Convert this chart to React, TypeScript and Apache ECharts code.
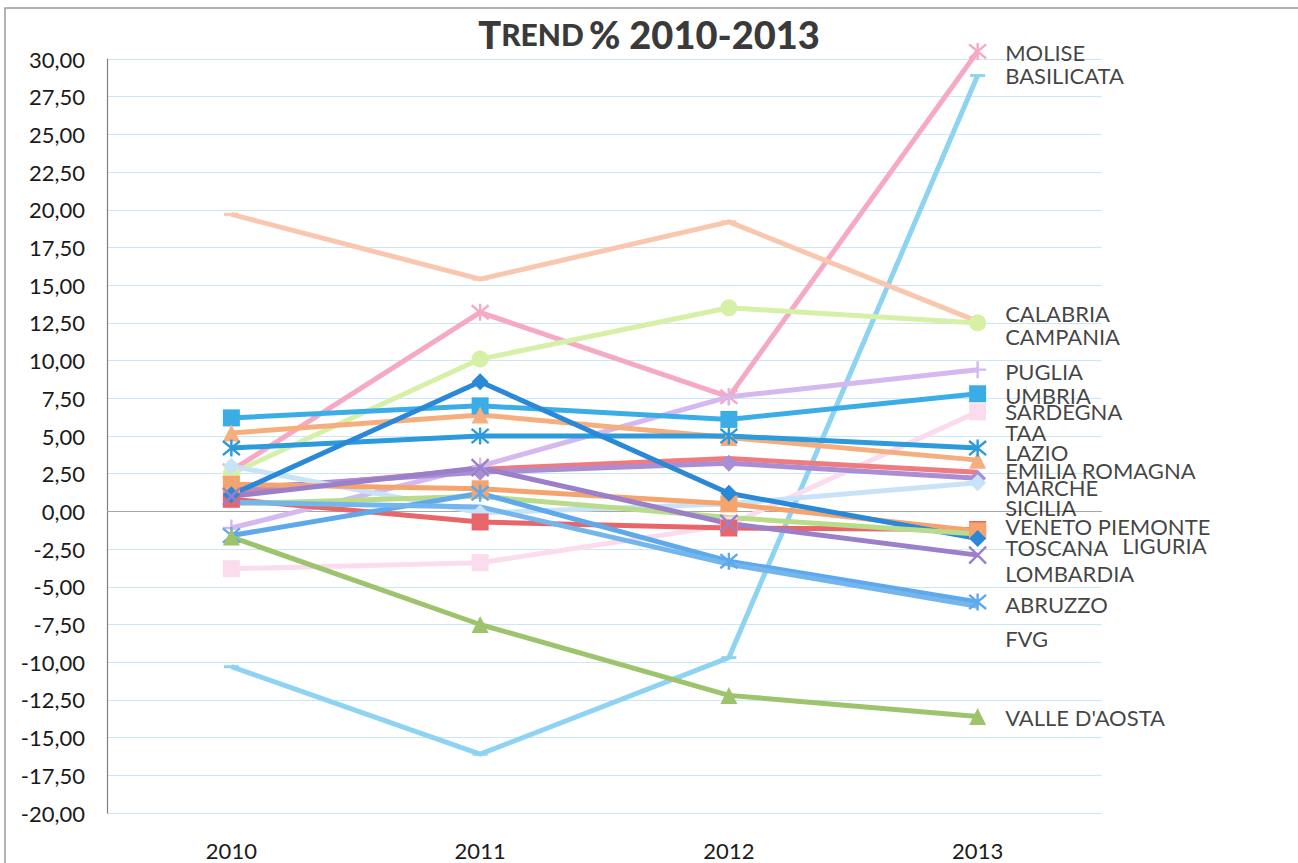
import React, { useEffect, useRef } from "react";
import * as echarts from "echarts";

const years = ["2010", "2011", "2012", "2013"];

const regions = [
  "MOLISE", "BASILICATA", "CALABRIA", "CAMPANIA", "PUGLIA", "UMBRIA", "SARDEGNA", "TAA",
  "LAZIO", "EMILIA ROMAGNA", "MARCHE", "SICILIA", "VENETO", "PIEMONTE", "TOSCANA",
  "LIGURIA", "LOMBARDIA", "ABRUZZO", "FVG", "VALLE D'AOSTA",
];

const molise = [2.7, 13.2, 7.6, 30.5];
const basilicata = [-10.3, -16.1, -9.7, 28.9];
const calabria = [19.7, 15.4, 19.2, 12.6];
const campania = [2.5, 10.1, 13.5, 12.5];
const puglia = [-1.1, 3.0, 7.6, 9.4];
const umbria = [6.2, 7.0, 6.1, 7.8];
const sardegna = [-3.8, -3.4, -0.9, 6.6];
const taa = [5.2, 6.4, 4.9, 3.4];
const lazio = [4.2, 5.0, 5.0, 4.2];
const emilia = [1.3, 2.8, 3.5, 2.6];
const marche = [1.5, 2.6, 3.2, 2.2];
const sicilia = [3.0, -0.1, 0.5, 1.9];
const veneto = [0.8, -0.7, -1.1, -1.2];
const piemonte = [1.8, 1.5, 0.5, -1.3];
const toscana = [1.1, 8.6, 1.2, -1.8];
const liguria = [0.5, 1.0, -0.4, -1.5];
const lombardia = [1.0, 2.9, -0.8, -2.9];
const abruzzo = [-1.6, 1.2, -3.3, -6.0];
const fvg = [0.6, 0.3, -3.5, -6.3];
const valle = [-1.7, -7.5, -12.2, -13.6];

const seriesValues = [
  molise, basilicata, calabria, campania, puglia, umbria, sardegna, taa, lazio, emilia,
  marche, sicilia, veneto, piemonte, toscana, liguria, lombardia, abruzzo, fvg, valle,
];

const colors = [
  "#F5A9C4", "#8ED3F2", "#F9C6AE", "#D6F0A8", "#D5B8EE", "#3BADE6", "#FBDCEE", "#F7AE7E",
  "#2C9ADB", "#EE7B80", "#A98ED6", "#C8E3F7", "#E8656A", "#F6A46E", "#2A88D8",
  "#B9DC8C", "#9B7FC8", "#5EA9EC", "#73B6EE", "#9DC46C",
];

const ASTER = "path://M0,0L10,10M10,0L0,10M5,-1L5,11";
const XMARK = "path://M0,0L10,10M10,0L0,10";
const PLUS = "path://M5,0L5,10M0,5L10,5";

const symbols = [
  ASTER, "dash", "dash", "circle", PLUS, "rect", "rect", "triangle",
  ASTER, "none", "diamond", "diamond", "rect", "rect", "diamond",
  "none", XMARK, ASTER, "none", "triangle",
];

// end label texts and their vertical positions (data units) at 2013
const labelTexts = [
  "MOLISE", "BASILICATA", "CALABRIA", "CAMPANIA", "PUGLIA", "UMBRIA", "SARDEGNA", "TAA",
  "LAZIO", "EMILIA ROMAGNA", "MARCHE", "SICILIA", "VENETO PIEMONTE", "TOSCANA", "LIGURIA",
  "LOMBARDIA", "ABRUZZO", "FVG", "VALLE D'AOSTA",
];
const labelY = [
  30.4, 28.9, 13.1, 11.6, 9.3, 7.7, 6.6, 5.25, 3.9, 2.7, 1.6, 0.25, -1.0, -2.4, -2.25,
  -4.1, -6.15, -8.4, -13.7,
];

const fmt = (v: number) => v.toFixed(2).replace(".", ",");

export default function App() {
  const ref = useRef<HTMLDivElement>(null);
  useEffect(() => {
    if (!ref.current) return;
    const chart = echarts.init(ref.current, undefined, { renderer: "svg" });
    const lineSeries: any[] = seriesValues.map((vals, i) => {
      const sym = symbols[i];
      const isPath = sym.startsWith("path://");
      const isDash = sym === "dash";
      return {
        name: regions[i],
        type: "line",
        data: vals,
        clip: false,
        symbol: isDash ? "rect" : sym,
        symbolSize: isDash ? [15, 3] : 17,
        showSymbol: sym !== "none",
        lineStyle: { color: colors[i], width: 5 },
        itemStyle: {
          color: colors[i],
          borderColor: colors[i],
          borderWidth: isPath ? 2.4 : 0,
        },
        z: 2,
      };
    });
    lineSeries[0].markLine = {
      silent: true,
      symbol: "none",
      label: { show: false },
      lineStyle: { color: "#A6A6A6", width: 1.2, type: "solid" },
      data: [{ yAxis: 0 }],
      z: 1,
    };
    const labelSeries = {
      type: "scatter",
      symbolSize: 1,
      clip: false,
      silent: true,
      z: 5,
      itemStyle: { color: "rgba(0,0,0,0)" },
      data: labelTexts.map((t, i) => ({ value: [3, labelY[i]], name: t })),
      label: {
        show: true,
        position: "right",
        distance: 0,
        formatter: (p: any) => p.name,
        fontFamily: "Lato",
        fontSize: 22,
        lineHeight: 16,
        color: "#111",
      },
      labelLayout: (p: any) => ({ dx: p.text === "LIGURIA" ? 144 : 27 }),
    };
    chart.setOption({
      animation: false,
      backgroundColor: "#ffffff",
      title: {
        text: "{a|T}{b|REND} {a|% 2010-2013}",
        left: "center",
        top: 10,
        textStyle: {
          rich: {
            a: { fontFamily: "Lato", fontWeight: 900, fontSize: 38, color: "#3a3a3a" },
            b: { fontFamily: "Lato", fontWeight: 900, fontSize: 30, color: "#3a3a3a" },
          },
        },
      },
      grid: { left: 107, right: 196, top: 59, bottom: 50 },
      xAxis: {
        type: "category",
        data: years,
        boundaryGap: true,
        axisLine: { show: false, onZero: false },
        axisTick: { show: false },
        axisLabel: { fontFamily: "Lato", fontSize: 22, color: "#1a1a1a", margin: 26 },
        splitLine: { show: false },
      },
      yAxis: {
        type: "value",
        min: -20,
        max: 30,
        interval: 2.5,
        axisLine: { show: true, lineStyle: { color: "#7F7F7F", width: 1.2 } },
        axisTick: { show: false },
        axisLabel: {
          fontFamily: "Lato",
          fontSize: 22,
          color: "#1a1a1a",
          margin: 22,
          formatter: (v: number) => fmt(v),
        },
        splitLine: { show: true, lineStyle: { color: "#CBE7F4", width: 1 } },
      },
      graphic: [
        {
          type: "rect",
          shape: { x: 5, y: 8, width: 1300, height: 870 },
          style: { fill: "none", stroke: "#9A9A9A", lineWidth: 1.5 },
          silent: true,
          z: -1,
        },
      ],
      series: [...lineSeries, labelSeries],
    });
    return () => chart.dispose();
  }, []);
  return (
    <div
      ref={ref}
      style={{ position: "absolute", left: 0, top: 0, width: 1298, height: 863 }}
    />
  );
}
